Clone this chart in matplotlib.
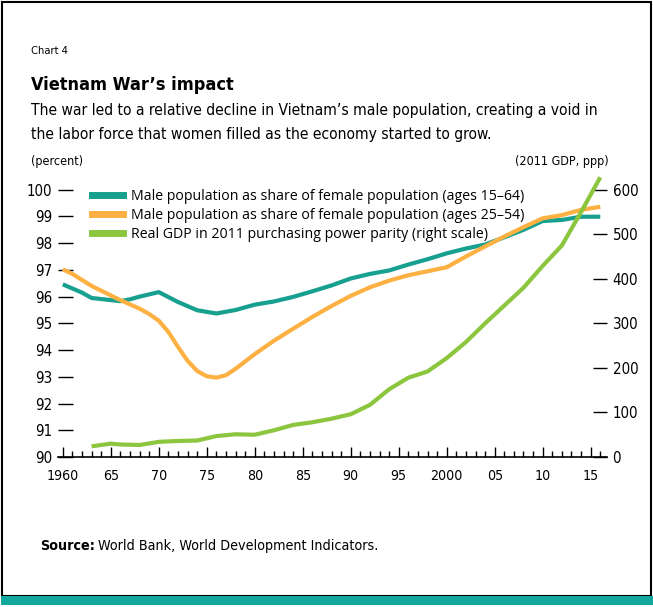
import matplotlib.pyplot as plt
from matplotlib import font_manager as fm
from matplotlib.patches import Rectangle
from matplotlib.lines import Line2D

W, H = 653, 607

# Male pop. as share of female pop. (ages 15-64)
teal_years = [1960, 1962, 1963, 1966, 1967, 1968, 1970, 1972, 1974, 1976, 1978, 1980,
              1982, 1984, 1986, 1988, 1990, 1992, 1994, 1996, 1998, 2000, 2002, 2004,
              2006, 2008, 2010, 2012, 2014, 2016]
teal_vals = [96.46, 96.15, 95.95, 95.83, 95.90, 96.00, 96.17, 95.80, 95.49, 95.37, 95.50, 95.70,
             95.82, 95.99, 96.20, 96.42, 96.68, 96.85, 96.98, 97.20, 97.40, 97.62, 97.80, 97.95,
             98.22, 98.50, 98.83, 98.87, 98.99, 98.99]

# Male pop. as share of female pop. (ages 25-54)
orange_years = [1960, 1961, 1963, 1966, 1968, 1969, 1970, 1971, 1972, 1973, 1974, 1975, 1976, 1977,
                1978, 1980, 1982, 1984, 1986, 1988, 1990, 1992, 1994, 1996, 1998, 2000, 2002,
                2004, 2006, 2008, 2010, 2012, 2014, 2016]
orange_vals = [97.02, 96.85, 96.40, 95.87, 95.55, 95.35, 95.10, 94.68, 94.12, 93.60, 93.22, 93.02, 92.97, 93.06,
               93.30, 93.85, 94.35, 94.80, 95.24, 95.65, 96.03, 96.35, 96.60, 96.80, 96.95, 97.10, 97.50,
               97.88, 98.25, 98.60, 98.93, 99.05, 99.25, 99.36]

# Real GDP, 2011 PPP (right scale)
gdp_years = [1963, 1965, 1966, 1968, 1970, 1972, 1974, 1976, 1978, 1980, 1982, 1984, 1986,
             1988, 1990, 1992, 1994, 1996, 1998, 2000, 2002, 2004, 2006, 2008, 2010, 2012,
             2014, 2016]
gdp_vals = [24, 30, 28, 27, 34, 36, 37, 47, 51, 50, 60, 72, 78,
            86, 96, 117, 152, 178, 192, 222, 258, 300, 340, 380, 429, 475,
            550, 628]

xtick_years = [1960, 1965, 1970, 1975, 1980, 1985, 1990, 1995, 2000, 2005, 2010, 2015]
xtick_labels = ['1960', '65', '70', '75', '80', '85', '90', '95', '2000', '05', '10', '15']

TEAL = '#17a08f'
ORANGE = '#fdb143'
GREEN = '#8cc63f'

# pick a condensed face if one is installed, else a narrow-ish sans
has_dv_cond = any(f.name == 'DejaVu Sans' and 'condensed' in str(f.stretch)
                  for f in fm.fontManager.ttflist)
if has_dv_cond:
    CF = dict(family='DejaVu Sans', fontstretch='condensed')
    k = 1.0
else:
    CF = dict(family=['Lato', 'DejaVu Sans'])
    k = 1.05
reg = ['Open Sans', 'DejaVu Sans']

fig = plt.figure(figsize=(W / 100, H / 100), dpi=100)

def px(x, y):
    return x / W, 1 - y / H

# frame and bottom bar
fig.add_artist(Rectangle(px(1.5, 596), (650.5 - 1.5) / W, (596 - 2) / H, transform=fig.transFigure,
                         fill=False, edgecolor='black', lw=1.5))
fig.add_artist(Rectangle(px(1, 605), 652 / W, 9 / H, transform=fig.transFigure,
                         facecolor='#13a89e', edgecolor='none'))

fig.text(*px(31, 51), 'Chart 4', fontsize=8 * k, va='center', **CF)
fig.text(*px(31, 85), 'Vietnam War\u2019s impact', fontsize=13 * k, fontweight='bold', va='center', **CF)
fig.text(*px(31, 111), 'The war led to a relative decline in Vietnam\u2019s male population, creating a void in',
         fontsize=11.2 * k, va='center', **CF)
fig.text(*px(31, 134), 'the labor force that women filled as the economy started to grow.',
         fontsize=11.2 * k, va='center', **CF)
fig.text(*px(31, 162), '(percent)', fontsize=9 * k, va='center', **CF)
fig.text(*px(609, 162), '(2011 GDP, ppp)', fontsize=9 * k, va='center', ha='right', **CF)
src = fig.text(*px(40, 546), 'Source:', fontsize=10.3 * k, fontweight='bold', va='center', **CF)
fig.canvas.draw()
bb = src.get_window_extent()
fig.text((bb.x1 + 3) / W, 1 - 546 / H, 'World Bank, World Development Indicators.',
         fontsize=10.3 * k, va='center', **CF)

left, right, bottom, top = 58, 607, 457, 173.7
ax = fig.add_axes([left / W, 1 - bottom / H, (right - left) / W, (bottom - top) / H])
ax2 = ax.twinx()

ax.plot(teal_years, teal_vals, color=TEAL, lw=3, solid_capstyle='butt')
ax.plot(orange_years, orange_vals, color=ORANGE, lw=3, solid_capstyle='butt')
ax2.plot(gdp_years, gdp_vals, color=GREEN, lw=3, solid_capstyle='butt')

ax.set_xlim(1959.5, 2016.7)
ax.set_ylim(90, 100.6)
ax2.set_ylim(0, 636)

for a in (ax, ax2):
    for s in ('left', 'right', 'top'):
        a.spines[s].set_visible(False)
ax2.spines['bottom'].set_visible(False)
ax.spines['bottom'].set_linewidth(1.2)

ax.set_yticks(range(90, 101))
ax2.set_yticks(range(0, 601, 100))
ax.tick_params(axis='y', direction='in', length=11, width=1, pad=4, labelsize=10.8 * k)
ax2.tick_params(axis='y', direction='in', length=10, width=1, pad=4, labelsize=10.8 * k)
ax.set_xticks(xtick_years)
ax.set_xticklabels(xtick_labels)
ax.set_xticks(range(1960, 2017), minor=True)
ax.tick_params(axis='x', which='major', direction='in', length=7, width=1, pad=9, labelsize=10.2 * k)
ax.tick_params(axis='x', which='minor', direction='in', length=4.3, width=1)
for lab in ax.get_xticklabels() + ax.get_yticklabels() + ax2.get_yticklabels():
    lab.set_family(CF['family'])
    if has_dv_cond:
        lab.set_fontstretch('condensed')

handles = [Line2D([], [], color=TEAL, lw=5),
           Line2D([], [], color=ORANGE, lw=5),
           Line2D([], [], color=GREEN, lw=5)]
labels = ['Male population as share of female population (ages 15\u201364)',
          'Male population as share of female population (ages 25\u201354)',
          'Real GDP in 2011 purchasing power parity (right scale)']
ax.legend(handles, labels, loc='upper left',
          bbox_to_anchor=((86 - left) / (right - left), 1 - (183 - top) / (bottom - top)),
          frameon=False, prop={'family': reg, 'size': 10.2}, handlelength=2.2, handletextpad=0.55,
          labelspacing=0.28, borderaxespad=0)

fig.savefig('out.png', dpi=100)
